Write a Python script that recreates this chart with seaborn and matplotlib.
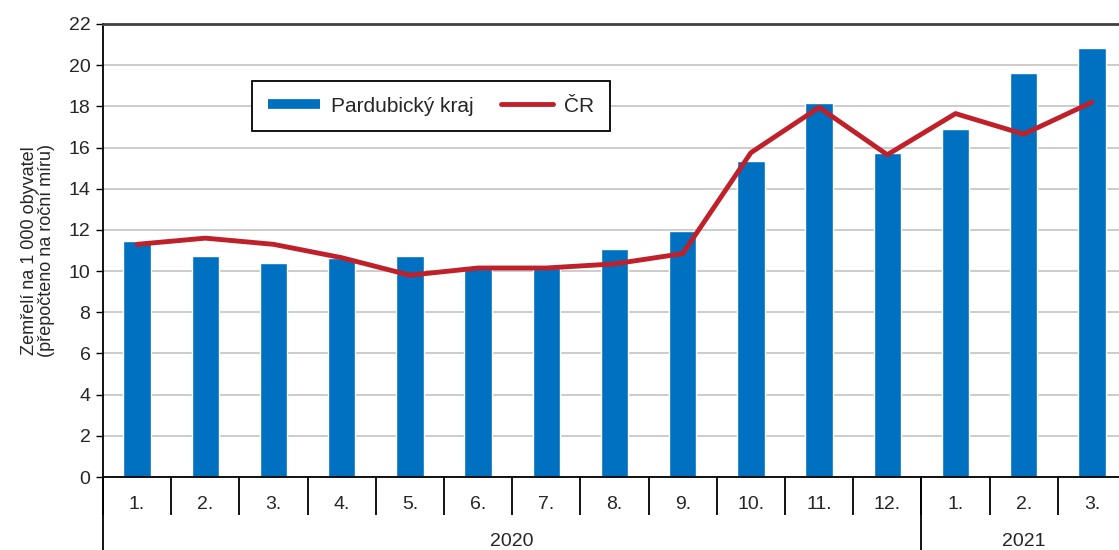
import numpy as np
import pandas as pd
import matplotlib
matplotlib.use('Agg')
import matplotlib.pyplot as plt
import matplotlib.transforms as mtransforms
from matplotlib.lines import Line2D
import seaborn as sns

# Data
periods = ['2020-01', '2020-02', '2020-03', '2020-04', '2020-05', '2020-06',
           '2020-07', '2020-08', '2020-09', '2020-10', '2020-11', '2020-12',
           '2021-01', '2021-02', '2021-03']
month_labels = ['1.', '2.', '3.', '4.', '5.', '6.', '7.', '8.', '9.', '10.',
                '11.', '12.', '1.', '2.', '3.']
years = ['2020'] * 12 + ['2021'] * 3
pardubicky = [11.45, 10.75, 10.4, 10.65, 10.75, 10.15, 10.15, 11.05, 11.95,
              15.35, 18.15, 15.75, 16.9, 19.6, 20.85]
cr = [11.3, 11.6, 11.3, 10.65, 9.8, 10.15, 10.15, 10.35, 10.85,
      15.75, 17.95, 15.65, 17.65, 16.65, 18.2]

df = pd.DataFrame({'period': periods, 'Pardubický kraj': pardubicky, 'ČR': cr})

bar_color = '#0070C0'
line_color = '#C0202A'

sns.set_style('white')
plt.rcParams['font.family'] = ['Liberation Sans', 'DejaVu Sans']

fig = plt.figure(figsize=(11.19, 5.5), dpi=100)
ax = fig.add_axes([103 / 1119, 1 - 477 / 550, 1023 / 1119, 453 / 550])

sns.barplot(data=df, x='period', y='Pardubický kraj', color=bar_color,
            width=0.4, saturation=1, ax=ax, zorder=2)
sns.pointplot(data=df, x='period', y='ČR', color=line_color, markers='',
              linewidth=3.5, ax=ax, zorder=3)

ax.set_ylim(0, 22)
ax.set_xlim(-0.5, len(periods) - 0.5)
ax.set_yticks(np.arange(0, 23, 2))
ax.tick_params(axis='y', labelsize=14, length=5, width=1, color='black',
               direction='out', left=True, pad=4)
ax.yaxis.grid(True, color='#c4c4c4', lw=1.2, zorder=0)
ax.set_axisbelow(True)

# x axis: month labels with separators between months
ax.set_xticks(np.arange(len(periods)))
ax.set_xticklabels(month_labels, fontsize=14)
ax.tick_params(axis='x', which='major', length=0, pad=14)
ax.set_xticks(np.arange(len(periods) + 1) - 0.5, minor=True)
ax.tick_params(axis='x', which='minor', length=27, width=1.3, color='black',
               direction='out', bottom=True)
ax.set_xlabel('')

# year groups
trans = mtransforms.blended_transform_factory(ax.transData, ax.transAxes)
year_names = list(dict.fromkeys(years))
start = 0
for y in year_names:
    n = years.count(y)
    ax.plot([start - 0.5, start - 0.5], [0, -0.2], transform=trans,
            color='black', lw=1.3, clip_on=False)
    ax.text(start - 0.5 + n / 2, -0.143, y, transform=trans, ha='center',
            va='center', fontsize=14)
    start += n

ax.set_ylabel('Zemřelí na 1 000 obyvatel\n(přepočteno na roční míru)',
              fontsize=13, linespacing=0.95, labelpad=10)

for s in ['left', 'bottom']:
    ax.spines[s].set_color('black')
    ax.spines[s].set_linewidth(1.3)
ax.spines['top'].set_color('#404040')
ax.spines['top'].set_linewidth(2)
ax.spines['right'].set_visible(False)

handles = [Line2D([0], [0], color=bar_color, lw=7, solid_capstyle='butt'),
           Line2D([0], [0], color=line_color, lw=3.5)]
leg = ax.legend(handles, ['Pardubický kraj', 'ČR'], ncol=2, fontsize=15,
                loc='upper left', bbox_to_anchor=(252 / 1119, 1 - 81 / 550),
                bbox_transform=fig.transFigure, borderaxespad=0, frameon=True,
                fancybox=False, handlelength=2.5, handletextpad=0.55,
                columnspacing=1.3, borderpad=0.75, framealpha=1)
leg.get_frame().set_edgecolor('black')
leg.get_frame().set_linewidth(1.3)

fig.savefig('out.png', dpi=100)
